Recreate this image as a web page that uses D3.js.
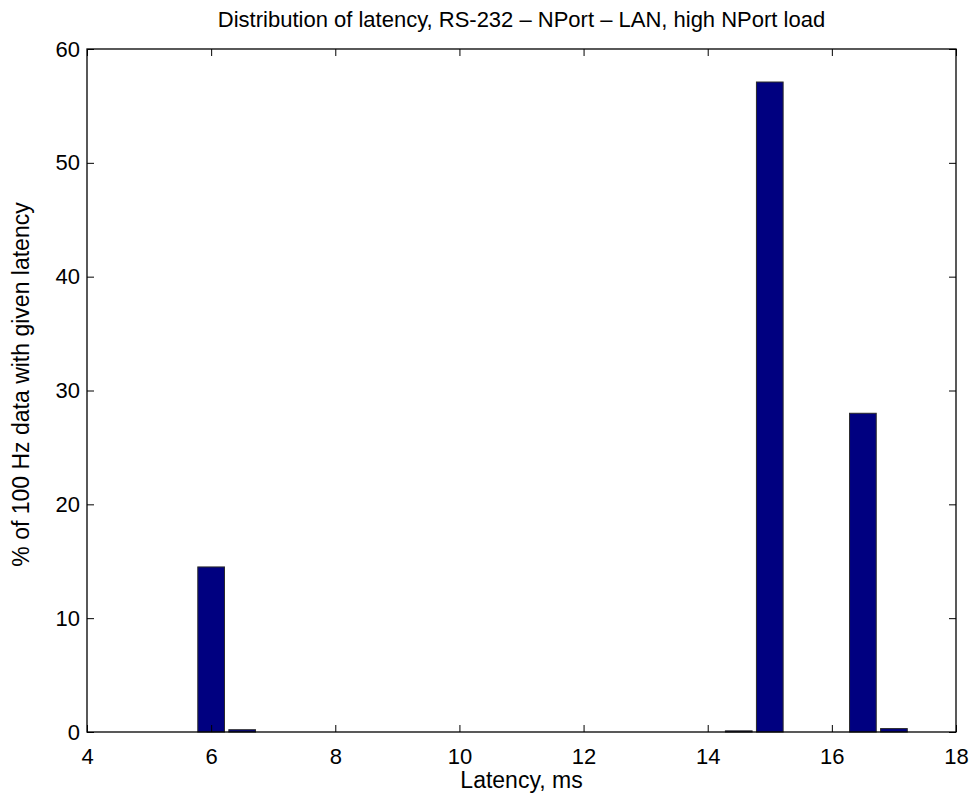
<!DOCTYPE html>
<html>
<head>
<meta charset="utf-8">
<script src="https://cdn.jsdelivr.net/npm/d3@7"></script>
<style>
  body { margin: 0; background: #fff; }
  svg { display: block; font-family: "Liberation Sans", Arial, sans-serif; }
</style>
</head>
<body>
<div id="chart"></div>
<script>
"use strict";

// Histogram bins (latency, ms) and their share (%)
var binCenters = [6, 6.5, 14.5, 15, 16.5, 17];
var binPercent = [14.5, 0.2, 0.1, 57.1, 28.0, 0.3];
var xTicks = [4, 6, 8, 10, 12, 14, 16, 18];
var yTicks = [0, 10, 20, 30, 40, 50, 60];

var titleText = "Distribution of latency, RS-232 \u2013 NPort \u2013 LAN, high NPort load",
	xLabel = "Latency, ms",
	yLabel = "% of 100 Hz data with given latency";

// Graph dimensions
var W = 973, H = 803,
	margin = { top: 49, right: 17, bottom: 71, left: 87 },
	width = W - margin.left - margin.right,
	height = H - margin.top - margin.bottom,
	barWidth = 0.43,
	tickLen = 7,
	fontSize = "22px",
	labelSize = "23px";

var data = binCenters.map(function (c, i) {
	return { x: c, y: binPercent[i] };
});

var x = d3.scaleLinear().domain([4, 18]).range([0, width]);
var y = d3.scaleLinear().domain([0, 60]).range([height, 0]);

var svg = d3.select("#chart").append("svg")
	.attr("width", W)
	.attr("height", H);

var canvas = svg.append("g")
	.attr("transform", "translate(" + margin.left + "," + margin.top + ")");

// Bars
canvas.selectAll(".bar")
	.data(data)
	.enter().append("rect")
	.attr("class", "bar")
	.attr("x", function (d) { return x(d.x - barWidth / 2); })
	.attr("width", function (d) { return x(d.x + barWidth / 2) - x(d.x - barWidth / 2); })
	.attr("y", function (d) { return y(d.y); })
	.attr("height", function (d) { return y(0) - y(d.y); })
	.attr("fill", "#000080")
	.attr("stroke", "#2a2a2a")
	.attr("stroke-width", 1);

// Axes (ticks pointing inward, on all four sides)
function styleAxis(g) {
	g.select(".domain").remove();
	g.selectAll(".tick line").attr("stroke", "#000");
	g.selectAll(".tick text")
		.attr("fill", "#000")
		.style("font-size", fontSize);
}

canvas.append("g")
	.attr("transform", "translate(0," + height + ")")
	.call(d3.axisBottom(x).tickValues(xTicks).tickSizeInner(-tickLen).tickSizeOuter(0).tickPadding(16))
	.call(styleAxis);

canvas.append("g")
	.call(d3.axisTop(x).tickValues(xTicks).tickSizeInner(-tickLen).tickSizeOuter(0).tickFormat(""))
	.call(styleAxis);

canvas.append("g")
	.call(d3.axisLeft(y).tickValues(yTicks).tickSizeInner(-tickLen).tickSizeOuter(0).tickPadding(7))
	.call(styleAxis);

canvas.append("g")
	.attr("transform", "translate(" + width + ",0)")
	.call(d3.axisRight(y).tickValues(yTicks).tickSizeInner(-tickLen).tickSizeOuter(0).tickFormat(""))
	.call(styleAxis);

// Box
canvas.append("rect")
	.attr("x", 0)
	.attr("y", 0)
	.attr("width", width)
	.attr("height", height)
	.attr("fill", "none")
	.attr("stroke", "#000")
	.attr("stroke-width", 1.3);

// Title and labels
svg.append("text")
	.attr("x", margin.left + width / 2)
	.attr("y", 27)
	.attr("text-anchor", "middle")
	.style("font-size", fontSize)
	.text(titleText);

svg.append("text")
	.attr("x", margin.left + width / 2)
	.attr("y", 788)
	.attr("text-anchor", "middle")
	.style("font-size", labelSize)
	.text(xLabel);

svg.append("text")
	.attr("transform", "translate(29," + (margin.top + height / 2 - 6) + ") rotate(-90)")
	.attr("text-anchor", "middle")
	.style("font-size", labelSize)
	.text(yLabel);
</script>
</body>
</html>
